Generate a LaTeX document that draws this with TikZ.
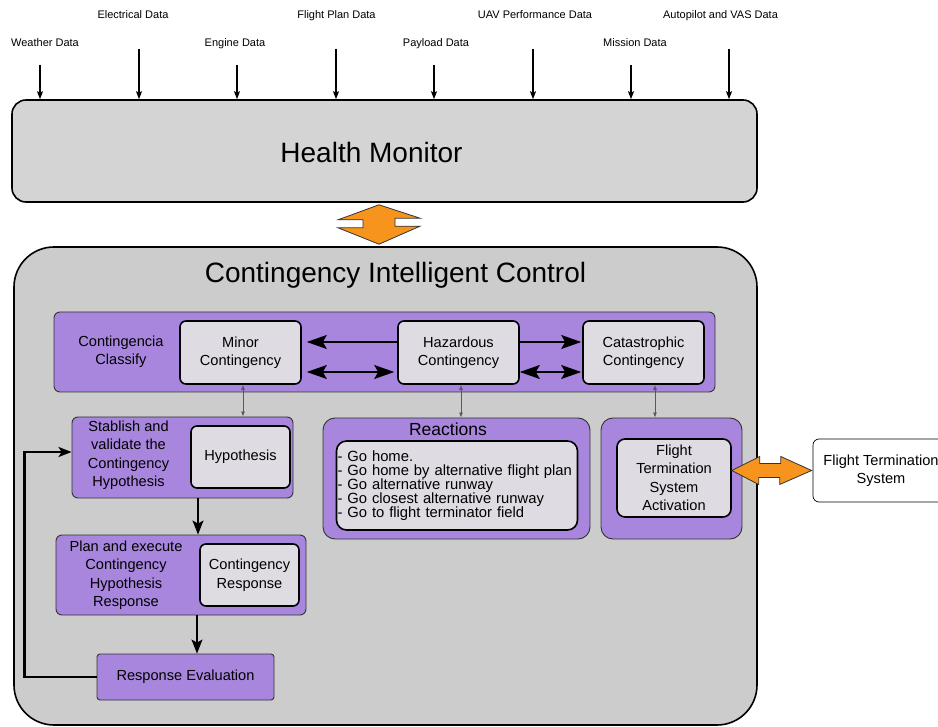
\documentclass[tikz,border=0pt]{standalone}
\usepackage{fontspec}
\setmainfont{Liberation Sans}
\usepackage{xcolor}
\usetikzlibrary{calc,arrows.meta}

\definecolor{panelgray}{RGB}{204,204,204}
\definecolor{monitorgray}{RGB}{212,212,212}
\definecolor{classpurple}{RGB}{168,134,222}
\definecolor{cardgray}{RGB}{222,219,226}
\definecolor{linkorange}{RGB}{247,148,29}

\newcommand{\boxfont}{\fontsize{14.6}{18.5}\selectfont}
\newcommand{\listfont}{\fontsize{14.8}{14}\selectfont\lineskiplimit=-10pt}
\newcommand{\bigtitlefont}{\fontsize{28}{32}\selectfont}

\tikzset{
	bigbox/.style={draw, line width=1.6pt, inner sep=0pt},
	groupbox/.style={draw=black!80, line width=0.9pt, fill=classpurple, rounded corners=6pt, inner sep=0pt},
	card/.style={draw, line width=1.6pt, fill=cardgray, rounded corners=6pt, inner sep=0pt, align=center, font=\boxfont},
	plain/.style={inner sep=0pt, align=center, font=\boxfont},
	datalabel/.style={inner sep=0pt, anchor=base, font=\fontsize{11}{13}\selectfont},
	datain/.style={line width=1.2pt, -{Stealth[length=8pt,width=6pt,inset=1.5pt]}},
	flowline/.style={line width=1.6pt, -{Stealth[length=20pt,width=14pt,inset=4pt]}},
	flowboth/.style={line width=1.6pt, {Stealth[length=20pt,width=14pt,inset=4pt]}-{Stealth[length=20pt,width=14pt,inset=4pt]}},
	linkline/.style={draw=black!65, line width=0.8pt, {Latex[length=5pt,width=4pt]}-{Latex[length=5pt,width=4pt]}},
	stepline/.style={line width=1.4pt, -{Stealth[length=14pt,width=11pt,inset=3pt]}},
	backline/.style={line width=2.2pt, -{Stealth[length=13pt,width=10pt,inset=3pt]}},
	bridge/.style={draw=black!80, line width=0.8pt, fill=linkorange, line join=miter}
}

\begin{document}
\begin{tikzpicture}[x=1pt,y=-1pt]
		\useasboundingbox (0,0) rectangle (938,727);
		% Data sources
		\node[datalabel] (weather) at (45,47) {Weather Data};
		\node[datalabel] (electrical) at (133,19) {Electrical Data};
		\node[datalabel] (engine) at (235,47) {Engine Data};
		\node[datalabel] (flightplan) at (336.5,19) {Flight Plan Data};
		\node[datalabel] (payload) at (436,47) {Payload Data};
		\node[datalabel] (performance) at (535,19) {UAV Performance Data};
		\node[datalabel] (mission) at (635,47) {Mission Data};
		\node[datalabel] (autopilot) at (720.5,19) {Autopilot and VAS Data};
		\coordinate (weatherin) at (40,65);
		\coordinate (electricalin) at (139,49);
		\coordinate (enginein) at (237,65);
		\coordinate (flightplanin) at (336,49);
		\coordinate (payloadin) at (434,65);
		\coordinate (performancein) at (533,49);
		\coordinate (missionin) at (631,65);
		\coordinate (autopilotin) at (729,49);
		% Health monitor
		\node[bigbox, fill=monitorgray, rounded corners=14pt, minimum width=745pt, minimum height=102pt] (hm) at (384.5,151) {};
		\node[inner sep=0pt, font=\bigtitlefont] (hmtitle) at (371.5,152) {Health Monitor};
		% Data arrows
		\draw[datain] (weatherin) -- (weatherin |- hm.north);
		\draw[datain] (electricalin) -- (electricalin |- hm.north);
		\draw[datain] (enginein) -- (enginein |- hm.north);
		\draw[datain] (flightplanin) -- (flightplanin |- hm.north);
		\draw[datain] (payloadin) -- (payloadin |- hm.north);
		\draw[datain] (performancein) -- (performancein |- hm.north);
		\draw[datain] (missionin) -- (missionin |- hm.north);
		\draw[datain] (autopilotin) -- (autopilotin |- hm.north);
		% Contingency control
		\node[bigbox, fill=panelgray, rounded corners=40pt, minimum width=743pt, minimum height=478pt] (cic) at (385.5,486) {};
		\node[inner sep=0pt, font=\bigtitlefont] (cictitle) at (395.5,275) {Contingency Intelligent Control};
		% Classify row
		\node[groupbox, minimum width=661pt, minimum height=80pt] (classify) at (384.5,352) {};
		\node[plain] (classifytext) at (121,351.5) {Contingencia\\Classify};
		\node[card, minimum width=121pt, minimum height=63pt] (minor) at (240.5,352.5) {Minor\\Contingency};
		\node[card, minimum width=121pt, minimum height=63pt] (haz) at (458.5,352.5) {Hazardous\\Contingency};
		\node[card, minimum width=121pt, minimum height=63pt] (cat) at (643.5,352.5) {Catastrophic\\Contingency};
		\draw[flowline] ([yshift=10.5pt]haz.west) -- ([yshift=10.5pt,xshift=5pt]minor.east);
		\draw[flowboth] ([yshift=-19.5pt,xshift=5pt]minor.east) -- ([yshift=-19.5pt,xshift=-3pt]haz.west);
		\draw[flowline] ([yshift=10.5pt]haz.east) -- ([yshift=10.5pt,xshift=-1pt]cat.west);
		\draw[flowboth] ([yshift=-19.5pt]haz.east) -- ([yshift=-19.5pt,xshift=-1pt]cat.west);
		% Left column
		\node[groupbox, minimum width=221pt, minimum height=81pt] (stablish) at (182.5,457.5) {};
		\node[plain] (stablishtext) at (128.5,455) {Stablish and\\validate the\\Contingency\\Hypothesis};
		\node[card, minimum width=99pt, minimum height=62pt] (hyp) at (240.5,457) {Hypothesis};
		\node[groupbox, minimum width=250pt, minimum height=80pt] (plan) at (181,575) {};
		\node[plain] (plantext) at (126,575) {Plan and execute\\Contingency\\Hypothesis\\Response};
		\node[card, minimum width=99pt, minimum height=62pt] (resp) at (249.5,575) {Contingency\\Response};
		\node[groupbox, rounded corners=3pt, minimum width=177pt, minimum height=46pt, font=\boxfont] (eval) at (185.5,677) {Response Evaluation};
		\draw[stepline] ([xshift=15.5pt]stablish.south) coordinate (s) -- (s |- plan.north);
		\draw[stepline] ([xshift=16pt]plan.south) coordinate (p) -- (p |- eval.north);
		\draw[backline] (eval.west) -| ($(stablish.west)+(-47,-5.5)$) -- ([yshift=5.5pt]stablish.west);
		% Reactions
		\node[groupbox, rounded corners=12pt, minimum width=267pt, minimum height=121pt] (reactions) at (456.5,478.5) {};
		\node[inner sep=0pt, font=\fontsize{17.5}{20}\selectfont] (reacttitle) at (448,429) {Reactions};
		\node[card, rounded corners=10pt, minimum width=241pt, minimum height=89pt, text width=239pt, align=left, font=\listfont] (moves) at (457,485.5) {- Go home.\\- Go home by alternative flight plan\\- Go alternative runway\\- Go closest alternative runway\\- Go to flight terminator field};
		% Flight termination
		\node[groupbox, rounded corners=12pt, minimum width=141pt, minimum height=121pt] (ftouter) at (671.5,478.5) {};
		\node[card, rounded corners=8pt, minimum width=114pt, minimum height=78pt] (ftinner) at (674,478) {Flight\\Termination\\System\\Activation};
		\node[draw, line width=0.7pt, fill=white, rounded corners=6pt, minimum width=136pt, minimum height=63pt, inner sep=0pt, align=center, font=\boxfont] (fts) at (881,470.5) {Flight Termination\\System};
		% Links between levels
		\draw[linkline] ([xshift=2.5pt]minor.south) coordinate (m) -- (m |- stablish.north);
		\draw[linkline] ([xshift=2.5pt]haz.south) coordinate (h) -- (h |- reactions.north);
		\draw[linkline] ([xshift=11.5pt]cat.south) coordinate (c) -- (c |- ftouter.north);
		% Orange arrows
		\draw[bridge] ($(hm.south)+(-5.5,2)$) -- ++(-41,15) -- ++(25,0) -- ++(0,8) -- ++(-25,0) -- ($(cic.north)+(-6.5,-2)$) -- ++(41,-18) -- ++(-25,0) -- ++(0,-8) -- ++(25,0) -- cycle;
		\draw[bridge] (ftinner.east |- fts.west) -- ++(28,-14) -- ++(0,7) -- ++(21,0) -- ++(0,-7) -- ($(fts.west)+(-1,0)$) -- ++(-32,14) -- ++(0,-7) -- ++(-21,0) -- ++(0,7) -- cycle;
	\end{tikzpicture}
\end{document}
